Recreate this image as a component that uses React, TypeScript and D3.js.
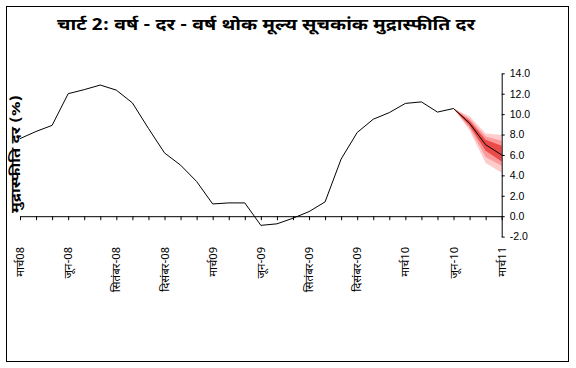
import React, { useEffect, useRef } from 'react';
import * as d3 from 'd3';

// months, Mar-08 .. Jun-10 monthly, then quarterly projection to Mar-11
const categories = [
  'मार्च08', 'अप्रैल-08', 'मई-08', 'जून-08', 'जुलाई-08', 'अगस्त-08', 'सितंबर-08', 'अक्टूबर-08',
  'नवंबर-08', 'दिसंबर-08', 'जनवरी-09', 'फरवरी-09', 'मार्च09', 'अप्रैल-09', 'मई-09', 'जून-09',
  'जुलाई-09', 'अगस्त-09', 'सितंबर-09', 'अक्टूबर-09', 'नवंबर-09', 'दिसंबर-09', 'जनवरी-10',
  'फरवरी-10', 'मार्च10', 'अप्रैल-10', 'मई-10', 'जून-10', 'सितंबर-10', 'दिसंबर-10', 'मार्च11',
];

const actual = [
  7.6, 8.3, 8.9, 12.0, 12.4, 12.85, 12.35, 11.1, 8.6, 6.2, 5.0, 3.4, 1.2, 1.3, 1.3, -0.9,
  -0.75, -0.2, 0.45, 1.4, 5.6, 8.2, 9.5, 10.15, 11.05, 11.2, 10.2, 10.55,
];

// projection (from Jun-10)
const projCats = ['जून-10', 'सितंबर-10', 'दिसंबर-10', 'मार्च11'];
const projCentral = [10.55, 9.1, 7.0, 6.0];
const lightLow = [10.55, 8.4, 5.2, 4.25];
const lightHigh = [10.55, 9.8, 8.1, 7.95];
const midLow = [10.55, 8.65, 5.8, 4.95];
const midHigh = [10.55, 9.55, 7.8, 7.4];
const darkLow = [10.55, 8.85, 6.4, 5.35];
const darkHigh = [10.55, 9.35, 7.5, 6.9];

const yTicks = [-2, 0, 2, 4, 6, 8, 10, 12, 14];

const title = 'चार्ट 2: वर्ष - दर - वर्ष थोक मूल्य सूचकांक मुद्रास्फीति दर';
const yTitle = 'मुद्रास्फीति दर (%)';

const font = '"Noto Sans Devanagari", "Liberation Sans", Arial, sans-serif';

export default function App() {
  const ref = useRef<SVGSVGElement | null>(null);

  useEffect(() => {
    document.body.style.margin = '0';
    const width = 576;
    const height = 368;

    const x = d3.scalePoint<string>().domain(categories).range([20, 501.7]);
    const y = d3.scaleLinear().domain([-2, 14]).range([236.6, 73.3]);

    const svg = d3.select(ref.current).html('')
      .attr('width', width)
      .attr('height', height)
      .attr('viewBox', `0 0 ${width} ${height}`);

    svg.append('rect')
      .attr('x', 6.5).attr('y', 6.5)
      .attr('width', 562).attr('height', 355)
      .attr('fill', 'white').attr('stroke', 'black').attr('stroke-width', 1);

    svg.append('text')
      .attr('x', 57).attr('y', 30)
      .attr('font-family', font)
      .attr('font-size', 16)
      .attr('font-weight', 'bold')
      .attr('textLength', 418)
      .attr('lengthAdjust', 'spacingAndGlyphs')
      .text(title);

    // fan bands
    const bands = [
      { low: lightLow, high: lightHigh, color: '#ffcccc' },
      { low: midLow, high: midHigh, color: '#fb9a9a' },
      { low: darkLow, high: darkHigh, color: '#ea4a4a' },
    ];
    const area = d3.area<number>()
      .x((_, i) => x(projCats[i]) as number);
    bands.forEach((b) => {
      svg.append('path')
        .attr('fill', b.color)
        .attr('d', area.y0((d) => y(d)).y1((_, i) => y(b.high[i]))(b.low) as string);
    });

    // x axis at zero
    const xAxis = svg.append('g')
      .attr('transform', `translate(0,${y(0)})`)
      .call(d3.axisBottom(x).tickSize(4).tickSizeOuter(0).tickFormat(() => ''));
    xAxis.select('.domain').attr('stroke', 'black');
    xAxis.selectAll('.tick line').attr('stroke', 'black');

    // category labels, rotated
    svg.append('g')
      .selectAll('text')
      .data(categories.filter((_, i) => i % 3 === 0))
      .join('text')
      .attr('transform', (d) => `translate(${(x(d) as number) + 4},247) rotate(-90)`)
      .attr('text-anchor', 'end')
      .attr('font-family', font)
      .attr('font-size', 11.5)
      .text((d) => d);

    // y axis at right
    const yAxis = svg.append('g')
      .attr('transform', `translate(501.7,0)`)
      .call(d3.axisRight(y).tickValues(yTicks).tickSize(3).tickSizeOuter(0));
    yAxis.select('.domain').attr('stroke', 'black');
    yAxis.selectAll('.tick line').attr('stroke', 'black');
    yAxis.selectAll('.tick text')
      .attr('x', 8)
      .attr('font-family', '"Liberation Sans", Arial, sans-serif')
      .attr('font-size', 10.5)
      .attr('fill', 'black')
      .text((d: any) => (d < 0 ? '-' : '') + Math.abs(d).toFixed(1));

    svg.append('path')
      .attr('fill', 'none')
      .attr('stroke', 'black')
      .attr('stroke-width', 1)
      .attr('d', d3.line<number>().x((_, i) => x(categories[i]) as number).y((d) => y(d))(actual) as string);

    svg.append('path')
      .attr('fill', 'none')
      .attr('stroke', 'black')
      .attr('stroke-width', 1)
      .attr('d', d3.line<number>().x((_, i) => x(projCats[i]) as number).y((d) => y(d))(projCentral) as string);

    svg.append('text')
      .attr('transform', `translate(20,154) rotate(-90)`)
      .attr('text-anchor', 'middle')
      .attr('font-family', font)
      .attr('font-size', 13)
      .attr('font-weight', 'bold')
      .attr('textLength', 118)
      .attr('lengthAdjust', 'spacingAndGlyphs')
      .text(yTitle);
  }, []);

  return <svg ref={ref} style={{ position: 'absolute', left: 0, top: 0, display: 'block' }}></svg>;
}
